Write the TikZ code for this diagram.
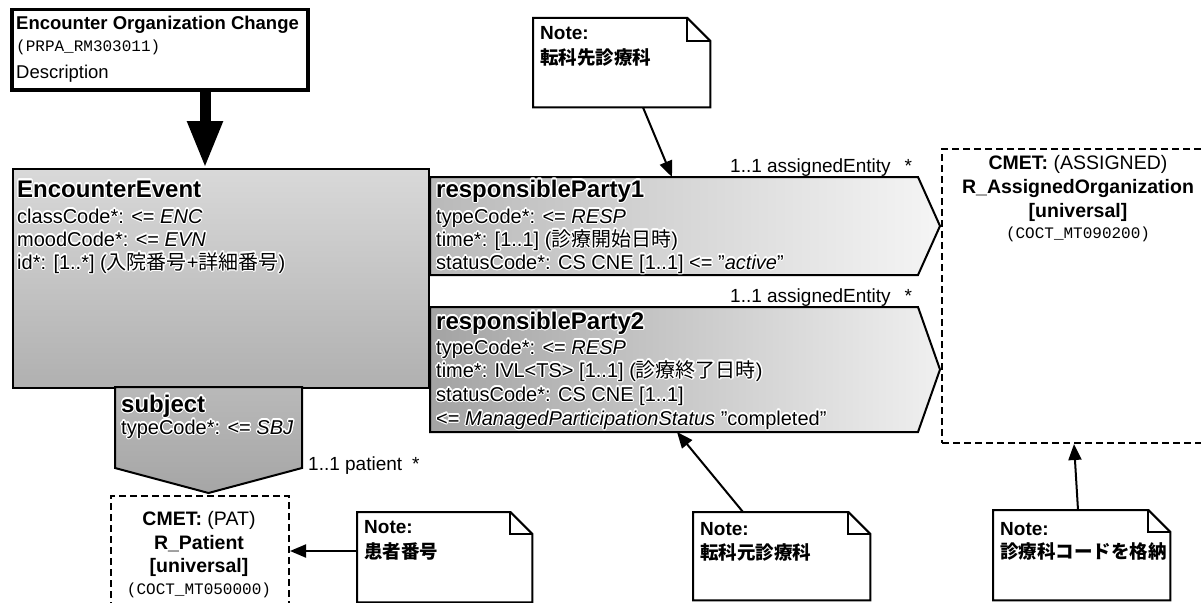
\documentclass[tikz,border=0pt]{standalone}
\usepackage{fontspec}
\setmainfont{Liberation Sans}
\setmonofont{Liberation Mono}
\newfontfamily\cjk{Noto Sans CJK JP}
\usepackage{contour}
\contourlength{1.2pt}
\usetikzlibrary{arrows.meta}
\newcommand\halotext[1]{\contour{white}{#1}}
\begin{document}
\begin{tikzpicture}[x=1pt,y=-1pt,
  titlebox/.style={draw, line width=3.5pt, inner sep=0pt, anchor=north west, fill=white},
  clsbox/.style={draw, line width=2pt, inner sep=0pt, anchor=north west},
  hdr/.style={anchor=base west, inner sep=0pt, font=\bfseries\fontsize{24}{28}\selectfont},
  attr/.style={anchor=base west, inner sep=0pt, font=\fontsize{20}{24}\selectfont},
  lbl/.style={anchor=base west, inner sep=0pt, font=\fontsize{19}{22}\selectfont},
  cmetbox/.style={draw, dash pattern=on 7pt off 4pt, line width=2pt, anchor=north west, inner sep=0pt},
  cmettxt/.style={anchor=base, inner sep=0pt, font=\fontsize{19.5}{22}\selectfont},
  cmetcode/.style={anchor=base, inner sep=0pt, font=\ttfamily\fontsize{16}{18}\selectfont},
  notebox/.style={anchor=north west, inner sep=0pt},
  noteline/.style={draw, line width=2pt, fill=white, line join=miter},
  notetxt/.style={anchor=base west, inner sep=0pt, font=\fontsize{19}{22}\selectfont},
  notecjk/.style={anchor=base west, inner sep=0pt, font=\cjk\bfseries\fontsize{18.5}{22}\selectfont},
  pointer/.style={line width=2pt, -{Triangle[length=16pt,width=13pt]}},
]
\useasboundingbox (0,0) rectangle (1201,602);
\fill[white] (0,0) rectangle (1201,602);

% ---------- title ----------
\node[titlebox, minimum width=296pt, minimum height=80pt] (title) at (10,8) {};
\node[anchor=base west, inner sep=0pt, font=\bfseries\fontsize{18.5}{22}\selectfont] (ttl) at (16,30) {Encounter Organization Change};
\node[anchor=base west, inner sep=0pt, font=\ttfamily\fontsize{16}{18}\selectfont] (ttlid) at (16,52) {(PRPA\_RM303011)};
\node[anchor=base west, inner sep=0pt, font=\fontsize{18.5}{22}\selectfont] (ttldesc) at (16,78) {Description};

% ---------- EncounterEvent ----------
\node[clsbox, top color=gray!30, bottom color=gray!62, minimum width=416pt, minimum height=219pt] (ee) at (12,168) {};
\coordinate (eetop) at (205,168);
\draw[line width=11pt, -{Triangle[length=47pt,width=33pt]}] (eetop |- title.south) -- (eetop);
\node[hdr] (eeh) at (17,197) {\halotext{EncounterEvent}};
\node[attr] (ee1) at (17,223) {\halotext{classCode*: <= \textit{ENC}}};
\node[attr] (ee2) at (17,246) {\halotext{moodCode*: <= \textit{EVN}}};
\node[attr] (ee3) at (17,269) {\halotext{id*: [1..*] ({\cjk 入院番号}+{\cjk 詳細番号})}};

% ---------- subject ----------
\path[draw, line width=2pt, top color=gray!55, bottom color=gray!70, line join=miter]
  (115,387) -- (302,387) -- (302,468) -- (208.5,493) -- (115,468) -- cycle;
\coordinate (subjtip) at (208.5,493);
\node[hdr] (sbh) at (121,412) {\halotext{subject}};
\node[attr] (sb1) at (121,434) {\halotext{typeCode*: <= \textit{SBJ}}};
\node[lbl] (sblbl) at (308,470) {1..1 patient\hspace{10pt}*};

% ---------- responsibleParty1 ----------
\path[draw, line width=2pt, left color=gray!55, right color=gray!8, line join=miter]
  (430,177) -- (918,177) -- (940,226) -- (918,275) -- (430,275) -- cycle;
\coordinate (rp1n) at (672,177);
\node[hdr] (r1h) at (436,197) {\halotext{responsibleParty1}};
\node[attr] (r11) at (436,223) {\halotext{typeCode*: <= \textit{RESP}}};
\node[attr] (r12) at (436,246) {\halotext{time*: [1..1] ({\cjk 診療開始日時})}};
\node[attr] (r13) at (436,269) {\halotext{statusCode*: CS CNE [1..1] <= "\textit{active}"}};
\node[lbl] (r1lbl) at (730,172) {1..1 assignedEntity\hspace{14pt}*};

% ---------- responsibleParty2 ----------
\path[draw, line width=2pt, left color=gray!72, right color=gray!12, line join=miter]
  (430,307) -- (918,307) -- (940,369.5) -- (918,432) -- (430,432) -- cycle;
\coordinate (rp2s) at (677,432);
\node[hdr] (r2h) at (436,329) {\halotext{responsibleParty2}};
\node[attr] (r21) at (436,354) {\halotext{typeCode*: <= \textit{RESP}}};
\node[attr] (r22) at (436,377) {\halotext{time*: IVL<TS> [1..1] ({\cjk 診療終了日時})}};
\node[attr] (r23) at (436,401) {\halotext{statusCode*: CS CNE [1..1]}};
\node[attr] (r24) at (436,425) {\halotext{<= \textit{ManagedParticipationStatus} "completed"}};
\node[lbl] (r2lbl) at (730,302) {1..1 assignedEntity\hspace{14pt}*};

% ---------- CMET boxes ----------
\node[cmetbox, minimum width=178pt, minimum height=110pt] (pat) at (110,495) {};
\node[cmettxt] (pat1) at (199,525) {\textbf{CMET:} (PAT)};
\node[cmettxt, font=\bfseries\fontsize{19.5}{22}\selectfont] (pat2) at (199,549) {R\_Patient};
\node[cmettxt, font=\bfseries\fontsize{19.5}{22}\selectfont] (pat3) at (199,572) {[universal]};
\node[cmetcode] (pat4) at (199,594) {(COCT\_MT050000)};

\node[cmetbox, minimum width=274pt, minimum height=294pt] (asg) at (941,148) {};
\node[cmettxt] (asg1) at (1078,169) {\textbf{CMET:} (ASSIGNED)};
\node[cmettxt, font=\bfseries\fontsize{19.5}{22}\selectfont] (asg2) at (1078,193) {R\_AssignedOrganization};
\node[cmettxt, font=\bfseries\fontsize{19.5}{22}\selectfont] (asg3) at (1078,217) {[universal]};
\node[cmetcode] (asg4) at (1078,238) {(COCT\_MT090200)};

% ---------- notes ----------
% note 1
\node[notebox, minimum width=177pt, minimum height=89pt] (n1) at (533,18) {};
\draw[noteline] (n1.south west) -- (n1.north west) -- ([xshift=-23pt]n1.north east) -- ([yshift=-23pt]n1.north east) -- (n1.south east) -- cycle;
\draw[line width=2pt] ([xshift=-23pt]n1.north east) -- ++(0,23) -- ++(23,0);
\node[notetxt] (n1a) at (540,40) {\textbf{Note:}};
\node[notecjk] (n1b) at (540,64) {転科先診療科};
\draw[pointer] ([xshift=110pt]n1.south west) -- (rp1n);

% note 2
\node[notebox, minimum width=175pt, minimum height=90pt] (n2) at (357,512) {};
\draw[noteline] (n2.south west) -- (n2.north west) -- ([xshift=-22pt]n2.north east) -- ([yshift=-22pt]n2.north east) -- (n2.south east) -- cycle;
\draw[line width=2pt] ([xshift=-22pt]n2.north east) -- ++(0,22) -- ++(22,0);
\node[notetxt] (n2a) at (364,533) {\textbf{Note:}};
\node[notecjk] (n2b) at (364,558) {患者番号};
\draw[pointer] (n2.west |- pat.east) -- (pat.east);

% note 3
\node[notebox, minimum width=177pt, minimum height=88pt] (n3) at (693,512) {};
\draw[noteline] (n3.south west) -- (n3.north west) -- ([xshift=-22pt]n3.north east) -- ([yshift=-22pt]n3.north east) -- (n3.south east) -- cycle;
\draw[line width=2pt] ([xshift=-22pt]n3.north east) -- ++(0,22) -- ++(22,0);
\node[notetxt] (n3a) at (700,535) {\textbf{Note:}};
\node[notecjk] (n3b) at (700,559) {転科元診療科};
\draw[pointer] ([xshift=50pt]n3.north west) -- (rp2s);

% note 4
\node[notebox, minimum width=177pt, minimum height=90pt] (n4) at (993,510) {};
\draw[noteline] (n4.south west) -- (n4.north west) -- ([xshift=-22pt]n4.north east) -- ([yshift=-22pt]n4.north east) -- (n4.south east) -- cycle;
\draw[line width=2pt] ([xshift=-22pt]n4.north east) -- ++(0,22) -- ++(22,0);
\node[notetxt] (n4a) at (1000,535) {\textbf{Note:}};
\node[notecjk] (n4b) at (1000,558) {診療科コードを格納};
\draw[pointer] ([xshift=85pt]n4.north west) -- ([xshift=-5pt]asg.south);
\end{tikzpicture}
\end{document}
